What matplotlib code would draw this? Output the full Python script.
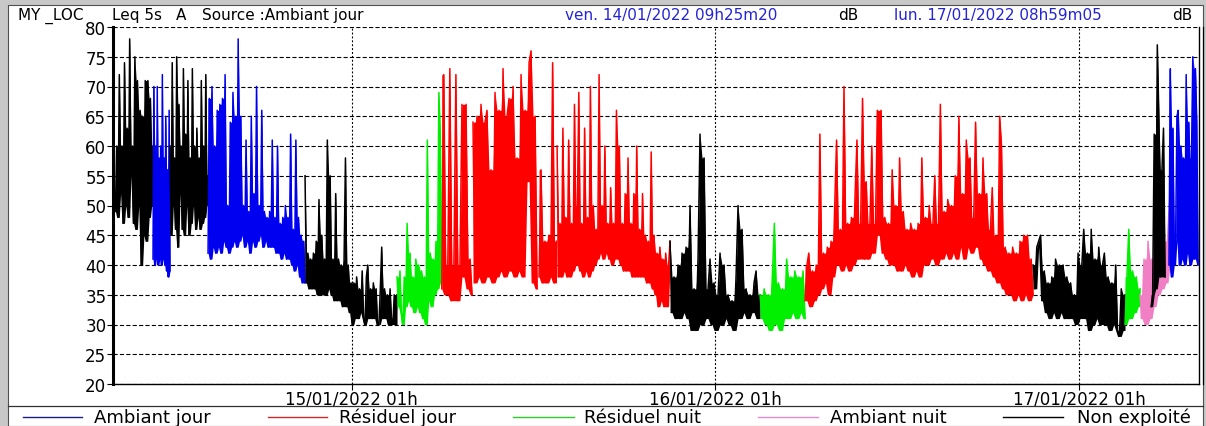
import matplotlib
matplotlib.use("Agg")
import matplotlib.pyplot as plt
import numpy as np
from matplotlib.lines import Line2D
from matplotlib.patches import Rectangle

plt.rcParams['font.family'] = ['DejaVu Sans']
plt.rcParams['lines.scale_dashes'] = False

# ---------------- data (hours since ven. 14/01/2022 09h25m20) ----------------
day_ticks = [15.578, 39.578, 63.578]
day_labels = ['15/01/2022 01h', '16/01/2022 01h', '17/01/2022 01h']
y_ticks = [20, 25, 30, 35, 40, 45, 50, 55, 60, 65, 70, 75, 80]

black_a = [49, 60, 48, 72, 52, 60, 47, 74, 50, 63, 48, 78, 55, 60, 47, 75, 46, 71, 50, 66,
           40, 65, 45, 71, 44, 71, 48, 68, 50, 60]
blue_a = [41, 70, 40, 60, 41, 70, 40, 58, 41, 60, 40, 72, 41, 58, 40, 65, 39, 56, 38, 66, 39]
black_b = [60, 45, 74, 50, 58, 46, 75, 43, 67, 52, 60, 46, 73, 45, 62, 50, 71, 45, 58, 47,
           73, 50, 60, 46, 63, 48, 58, 46, 71, 47, 60, 48, 72, 50, 55]
blue_b = [42, 68, 41, 70, 43, 60, 42, 66, 43, 67, 42, 68, 44, 72, 43, 50, 42, 64, 43, 69,
          44, 65, 43, 78, 44, 65, 45, 50, 43, 61, 44, 49, 42, 65, 44, 52, 43, 70, 44, 50,
          45, 66, 43, 49, 44, 48, 43, 49, 43, 61, 43, 48, 42, 60, 42, 47, 41, 48, 42, 50,
          41, 48, 41, 62, 40, 46, 39, 61, 40, 48, 38, 45, 37, 44, 37]
black_c = [55, 37, 42, 36, 41, 36, 42, 36, 44, 35, 51, 35, 45, 35, 41, 35, 61, 36, 55, 35,
           41, 34, 52, 34, 41, 34, 40, 33, 41, 58, 33, 40, 32, 37, 30, 37, 31, 38, 31, 36,
           32, 39, 31, 30, 38, 40, 31, 36, 31, 37, 31, 36, 30, 30, 36, 43, 31, 36, 31, 35,
           30, 36, 31, 30, 35, 30, 35]
green_a = [38, 33, 39, 32, 30, 38, 33, 47, 34, 42, 33, 38, 32, 41, 33, 40, 32, 39, 31, 38,
           30, 61, 34, 42, 33, 41, 35, 44, 36, 69, 62, 37]
red_a1 = [36, 72, 35, 40, 73, 34, 40, 72, 34, 40, 67, 38, 67, 36, 41, 35]
red_a2 = [64, 37, 65, 38, 67, 37, 64, 66, 38, 56, 37, 69, 38, 66, 39, 73, 38, 65, 68, 39,
          70, 38, 58, 39, 72, 38, 66, 54, 74, 76, 37, 65, 36]
red_a3 = [38, 56, 37, 44, 37, 45, 38, 74, 37, 44]
red_a4 = [60, 38, 47, 38, 63, 39, 48, 38, 61, 38, 47, 39, 67, 40, 50, 69, 39, 47, 38, 63,
          39, 48, 38, 70, 39, 50, 40, 46, 41, 72, 42, 50, 41, 60, 42, 47, 41, 53, 40, 47,
          41, 66, 41, 60, 40, 47, 39, 52, 39, 58, 39, 47, 38, 52, 38, 60, 38, 46, 38, 52,
          38, 45, 37, 44, 37, 59, 36, 45, 35, 42, 33, 43, 34, 41, 33, 42, 33, 40, 44]
black_d = [44, 32, 38, 31, 40, 31, 42, 32, 43, 31, 50, 29, 36, 29, 41, 62, 30, 58, 31, 36,
           41, 30, 37, 29, 35, 42, 30, 40, 31, 35, 30, 34, 29, 38, 50, 31, 46, 32, 36, 31,
           35, 32, 37, 39, 31, 35]
green_b = [35, 31, 36, 30, 35, 29, 38, 47, 30, 37, 29, 36, 31, 41, 31, 38, 32, 39, 31, 38,
           32, 39, 31]
red_b = [34, 40, 42, 33, 39, 34, 40, 35, 62, 36, 42, 37, 43, 35, 44, 38, 50, 61, 40, 46,
         39, 70, 40, 47, 39, 48, 40, 52, 61, 41, 47, 68, 41, 54, 41, 47, 60, 42, 47, 66,
         45, 66, 42, 48, 41, 47, 40, 56, 40, 50, 39, 58, 39, 49, 40, 46, 39, 47, 38, 46,
         39, 47, 38, 58, 40, 48, 40, 50, 41, 47, 55, 40, 47, 67, 41, 49, 42, 51, 41, 50,
         42, 55, 41, 65, 43, 52, 41, 61, 43, 58, 42, 48, 64, 43, 52, 41, 58, 40, 52, 39,
         46, 53, 38, 45, 37, 65, 60, 36, 43, 35, 42, 35, 43, 34, 42, 35, 44, 34, 45, 35,
         45, 34, 41, 35]
black_e = [40, 36, 43, 44, 45, 34, 39, 32, 37, 31, 38, 32, 41, 31, 40, 32, 40, 31, 38, 31,
           37, 31, 35, 30, 42, 31, 40, 46, 31, 42, 29, 46, 30, 41, 31, 43, 30, 40, 42, 30,
           38, 29, 37, 30, 40, 29, 28, 36, 29, 35]
green_c = [30, 38, 46, 31, 39, 32, 38, 33, 36]
pink_a = [35, 31, 41, 30, 44, 31, 41, 33, 42, 35, 45, 36, 44, 37, 46, 52, 40]
black_f = [33, 35, 62, 36, 77, 65, 38, 56, 63, 38]
blue_c = [40, 73, 38, 63, 40, 44, 65, 66, 40, 60, 41, 58, 40, 72, 42, 64, 40, 58, 75, 41,
          73, 64, 40]

# (category, start hour, end hour, values)
segments = [
    ('Non exploité', 0.00, 2.48, black_a),
    ('Ambiant jour', 2.48, 3.60, blue_a),
    ('Non exploité', 3.60, 6.11, black_b),
    ('Ambiant jour', 6.11, 12.51, blue_b),
    ('Non exploité', 12.51, 18.58, black_c),
    ('Résiduel nuit', 18.58, 21.53, green_a),
    ('Résiduel jour', 21.53, 23.53, red_a1),
    ('Résiduel jour', 23.59, 27.82, red_a2),
    ('Résiduel jour', 27.95, 29.10, red_a3),
    ('Résiduel jour', 29.14, 36.59, red_a4),
    ('Non exploité', 36.59, 42.53, black_d),
    ('Résiduel nuit', 42.53, 45.50, green_b),
    ('Résiduel jour', 45.50, 60.54, red_b),
    ('Non exploité', 60.54, 66.61, black_e),
    ('Résiduel nuit', 66.61, 67.60, green_c),
    ('Ambiant nuit', 67.60, 69.71, pink_a),
    ('Non exploité', 68.33, 69.25, black_f),
    ('Ambiant jour', 69.51, 71.43, blue_c),
]

categories = ['Ambiant jour', 'Résiduel jour', 'Résiduel nuit', 'Ambiant nuit', 'Non exploité']
series_colors = {'Ambiant jour': '#0000f0', 'Résiduel jour': '#ff0000',
                 'Résiduel nuit': '#00f000', 'Ambiant nuit': '#f07fc4',
                 'Non exploité': '#000000'}
legend_colors = {'Ambiant jour': '#1c1c8a', 'Résiduel jour': '#cc2a2a',
                 'Résiduel nuit': '#2ad02a', 'Ambiant nuit': '#e88ad0',
                 'Non exploité': '#000000'}

# ---------------- figure ----------------
W, H = 1206, 427
fig = plt.figure(figsize=(W / 100, H / 100), dpi=100)
fig.patch.set_facecolor('#c8c8c8')


def fx(px):
    return px / W


def fy(py):
    return 1 - py / H


fig.add_artist(Rectangle((fx(8), 0), fx(1203) - fx(8), fy(6), transform=fig.transFigure,
                         facecolor='white', edgecolor='#505050', lw=0.8, zorder=0))
fig.add_artist(Line2D([fx(8), fx(1203)], [fy(407), fy(407)], transform=fig.transFigure,
                      color='#303030', lw=0.9))

ax = fig.add_axes([fx(113), fy(385), fx(1199) - fx(113), fy(28) - fy(385)])
ax.set_facecolor('none')

for name, t0, t1, vals in segments:
    v = np.asarray(vals, dtype=float)
    t = np.linspace(t0, t1, len(v))
    # dense-signal body: from the local minima up to the trace with single dips closed
    low = np.minimum.reduce([np.r_[v[0], v[:-1]], v, np.r_[v[1:], v[-1]]])
    d = np.maximum(v, np.r_[v[1:], v[-1]])
    upper = np.minimum(d, np.r_[d[0], d[:-1]])
    ax.fill_between(t, low, upper, color=series_colors[name], lw=0, zorder=3)
    ax.plot(t, v, color=series_colors[name], lw=1.1, zorder=3)

ax.set_xlim(-0.16, 71.49)
ax.set_ylim(20, 80)
ax.set_yticks(y_ticks)
ax.set_yticklabels([str(v) for v in y_ticks])
ax.set_xticks(day_ticks)
ax.set_xticklabels(day_labels)

ax.set_axisbelow(True)
ax.yaxis.grid(True, color='black', lw=0.8, linestyle=(0, (3.0, 1.6)))
ax.xaxis.grid(True, color='black', lw=0.8, linestyle=(0, (1.4, 1.4)))

ax.spines['top'].set_visible(False)
ax.spines['left'].set_linewidth(2.2)
ax.spines['bottom'].set_linewidth(1.0)
ax.spines['right'].set_linewidth(1.0)
fig.add_artist(Line2D([fx(1202.5), fx(1202.5)], [fy(28), fy(385)], transform=fig.transFigure,
                      color='black', lw=0.9))

ax.tick_params(axis='y', length=4.3, width=0.8, pad=0.5, labelsize=12, colors='black')
ax.tick_params(axis='x', length=4, width=0.8, pad=0.3, labelsize=12, colors='black')

# header
hdr_y = fy(20)
fs_h = 11
fig.text(fx(18), hdr_y, 'MY _LOC', fontsize=fs_h, va='baseline')
fig.text(fx(112), hdr_y, 'Leq 5s', fontsize=fs_h, va='baseline')
fig.text(fx(176), hdr_y, 'A', fontsize=fs_h, va='baseline')
fig.text(fx(202), hdr_y, 'Source :Ambiant jour', fontsize=fs_h, va='baseline')
fig.text(fx(565), hdr_y, 'ven. 14/01/2022 09h25m20', fontsize=fs_h, va='baseline', color='#2424d6')
fig.text(fx(838), hdr_y, 'dB', fontsize=fs_h, va='baseline')
fig.text(fx(894), hdr_y, 'lun. 17/01/2022 08h59m05', fontsize=fs_h, va='baseline', color='#2424d6')
fig.text(fx(1172), hdr_y, 'dB', fontsize=fs_h, va='baseline')

# legend
leg_y = fy(418)
leg_pos = [(23, 82, 94), (268, 327, 339), (513, 574, 584), (758, 818, 830), (1003, 1063, 1077)]
for name, (x0, x1, xt) in zip(categories, leg_pos):
    fig.add_artist(Line2D([fx(x0), fx(x1)], [leg_y, leg_y], transform=fig.transFigure,
                          color=legend_colors[name], lw=1.0))
    fig.text(fx(xt), leg_y, name, fontsize=13, va='center', ha='left')

fig.savefig('out.png', dpi=100, facecolor=fig.get_facecolor())
